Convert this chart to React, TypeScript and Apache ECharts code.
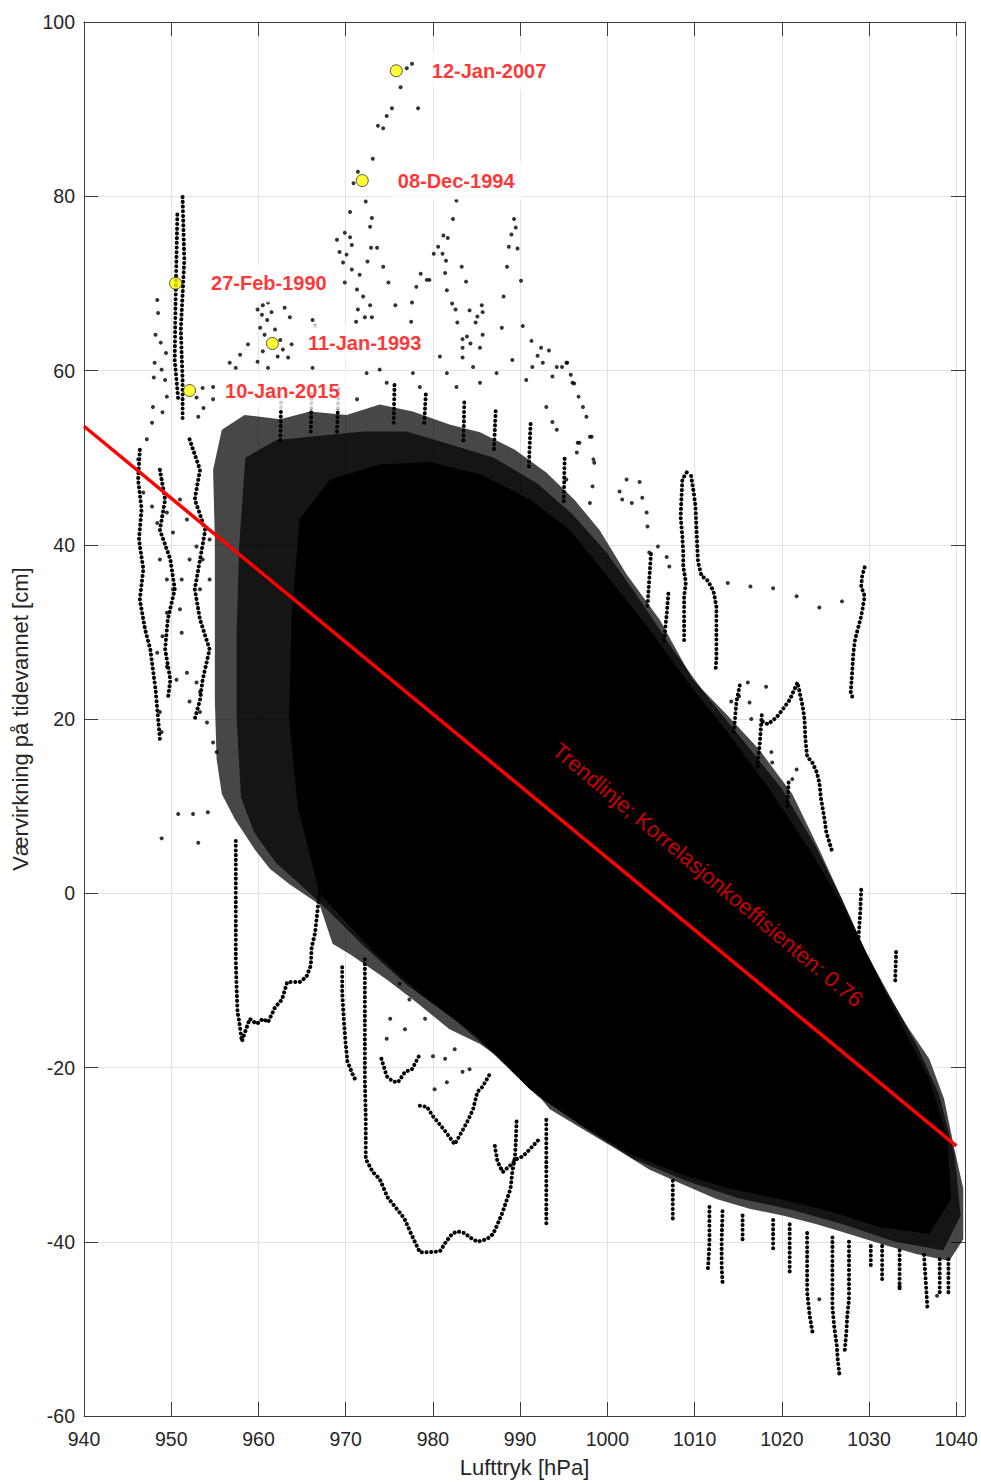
import React, { useEffect, useRef } from "react";
import * as echarts from "echarts";

// Weather effect on the tide (surge, cm) against air pressure (hPa).

const FONT = "'Liberation Sans', Arial, Helvetica, sans-serif";

// Axis ranges and tick spacing
const X_MIN = 940;
const X_MAX = 1041;
const X_STEP = 10;
const Y_MIN = -60;
const Y_MAX = 100;
const Y_STEP = 20;

// Highlighted storm events
const eventDates = ["12-Jan-2007", "08-Dec-1994", "27-Feb-1990", "11-Jan-1993", "10-Jan-2015"];
const eventPressure = [975.8, 971.9, 950.5, 961.6, 952.1];
const eventSurge = [94.4, 81.8, 70.0, 63.1, 57.7];

// Linear trend (end points at 940 and 1040 hPa)
const trendPressure = [940, 1040];
const trendSurge = [53.6, -29.0];
const trendText = "Trendlinje; Korrelasjonkoeffisienten: 0.76";
const trendTextAnchor = [1011.5, 2.1];

// Outline of the region where hourly readings overlap (loose fringe)
const denseOuter = [
  [954.8, 48.6], [955.8, 53.2], [958.4, 54.9], [962.5, 54.4], [965.9, 55.3], [970.1, 54.9],
  [973.9, 56.1], [977.7, 55.3], [981.9, 53.8], [985.4, 52.9], [989.4, 50.9], [993.0, 48.3],
  [996.2, 45.2], [999.1, 41.7], [1002.2, 36.6], [1006.0, 31.4], [1009.8, 24.5], [1013.7, 20.5],
  [1017.4, 16.5], [1021.2, 11.4], [1024.3, 5.0], [1026.9, -0.7], [1029.5, -6.4], [1031.8, -11.0],
  [1034.6, -15.6], [1036.9, -19.0], [1038.6, -23.6], [1039.8, -29.4], [1040.8, -33.9], [1040.8, -39.7],
  [1039.2, -42.2], [1035.4, -41.4], [1031.5, -40.3], [1027.7, -39.1], [1024.0, -38.0], [1020.1, -37.0],
  [1016.3, -36.2], [1012.5, -35.1], [1008.6, -33.4], [1004.8, -31.7], [1001.1, -29.4], [997.2, -27.1],
  [993.4, -24.8], [989.6, -20.2], [985.4, -17.3], [981.9, -15.6], [977.7, -12.2], [974.7, -9.9],
  [970.5, -7.0], [968.5, -5.8], [967.0, -1.3], [963.6, 1.0], [961.3, 2.8], [959.6, 5.0],
  [957.3, 8.5], [955.8, 11.4], [955.2, 15.4], [955.0, 22.2], [955.0, 31.4], [955.0, 40.6],
];

// Denser band inside the fringe
const denseMid = [
  [958.5, 50.0], [962.0, 52.0], [967.0, 52.5], [972.0, 53.0], [977.0, 53.0], [982.0, 51.5],
  [987.0, 50.0], [992.0, 47.0], [996.0, 43.5], [1000.0, 39.0], [1003.5, 34.0], [1007.5, 28.0],
  [1011.5, 22.5], [1016.0, 17.0], [1020.0, 12.0], [1023.8, 5.5], [1026.8, -0.5], [1029.5, -6.5],
  [1032.5, -12.0], [1035.5, -17.5], [1038.0, -23.0], [1039.8, -30.0], [1040.5, -37.0], [1038.5, -41.0],
  [1033.0, -40.0], [1027.0, -38.0], [1021.0, -36.3], [1015.0, -35.0], [1009.0, -33.0], [1003.0, -30.5],
  [997.5, -27.0], [992.0, -23.3], [987.0, -18.5], [982.5, -14.5], [977.0, -10.5], [972.0, -6.0],
  [968.0, -2.0], [965.0, 0.8], [962.0, 3.5], [959.5, 7.0], [958.0, 11.0], [957.5, 20.0],
  [957.5, 30.0], [957.8, 40.0],
];

// Core where the readings cover everything
const denseCore = [
  [964.7, 42.9], [968.2, 47.5], [973.9, 49.2], [979.6, 49.5], [985.4, 48.1], [991.1, 45.2],
  [995.7, 41.7], [1000.3, 36.0], [1004.8, 30.3], [1009.4, 24.0], [1014.0, 18.2], [1018.6, 11.9],
  [1023.2, 5.0], [1027.2, -1.8], [1030.6, -8.7], [1034.0, -15.6], [1036.9, -21.3], [1039.0, -28.2],
  [1039.4, -35.1], [1036.9, -39.1], [1031.2, -38.3], [1025.5, -36.5], [1019.7, -35.1], [1014.0, -33.9],
  [1008.3, -32.2], [1002.5, -29.9], [996.8, -26.5], [991.1, -22.5], [985.4, -16.7], [978.5, -11.5],
  [973.0, -6.5], [967.0, 0.0], [964.5, 10.0], [963.5, 20.0], [963.8, 31.4],
];

// Storm tracks: consecutive hourly readings outside the dense region
const track951a = [[951.3, 79.9], [951.5, 72.7], [951.1, 64.7], [951.3, 58.9], [951.3, 54.4]];
const track951b = [[950.7, 77.9], [950.5, 68.1], [950.4, 61.2], [950.8, 56.7]];
const trackWest1 = [
  [946.4, 50.9], [946.2, 47.5], [946.6, 44.1], [946.3, 40.6], [946.8, 37.2], [946.4, 33.7],
  [947.0, 30.3], [947.6, 28.0], [948.2, 23.4], [948.5, 20.0], [948.7, 17.7],
];
const trackWest2 = [
  [948.7, 48.6], [949.3, 45.2], [948.7, 41.7], [949.9, 38.3], [950.4, 34.9], [949.6, 31.4],
  [949.3, 28.0], [949.9, 24.5], [949.6, 22.2],
];
const trackWest3 = [
  [952.1, 52.1], [953.3, 48.6], [952.7, 45.2], [953.9, 41.7], [953.3, 38.3], [952.7, 34.9],
  [953.3, 31.4], [954.4, 28.0], [953.6, 24.5], [953.3, 22.2], [952.7, 20.0],
];
const track958 = [
  [957.4, 6.0], [957.4, 2.8], [957.4, -0.7], [957.4, -4.1], [957.4, -7.6], [957.5, -11.0],
  [957.6, -13.6], [957.8, -14.8], [958.1, -17.0], [959.0, -14.4], [959.8, -15.0], [960.5, -14.4],
  [961.1, -14.8], [961.9, -13.1], [962.7, -12.2], [963.3, -10.2], [964.7, -10.2], [965.5, -9.6],
  [966.0, -8.3], [966.1, -6.2], [966.5, -4.5], [966.7, -2.6], [967.0, 0.1],
];
const track972 = [
  [972.2, -7.6], [972.2, -12.2], [972.2, -16.7], [972.2, -21.3], [972.3, -25.9], [972.3, -30.5],
  [973.1, -32.0], [973.9, -32.8], [974.8, -34.9], [975.6, -35.9], [976.7, -37.3], [977.6, -39.3],
  [978.5, -41.2], [979.6, -41.2], [980.8, -41.1], [981.5, -40.0], [982.2, -39.1], [982.8, -38.8],
  [983.6, -39.0], [984.4, -39.6], [985.1, -40.0], [986.2, -39.7], [986.9, -39.1], [987.4, -38.0],
  [988.0, -36.6], [988.5, -35.1], [988.9, -33.9], [989.1, -32.0], [989.4, -30.3], [989.5, -28.6],
  [989.6, -25.9],
];
const track970 = [[969.6, -8.5], [969.6, -11.4], [969.8, -14.7], [970.0, -17.3], [970.2, -19.3], [970.8, -20.8], [971.2, -21.6]];
const track975 = [[974.1, -19.0], [974.7, -21.0], [975.4, -21.6], [976.0, -21.7], [976.8, -20.5], [977.6, -20.2], [978.5, -18.5]];
const track982 = [
  [978.5, -24.4], [979.3, -24.5], [980.0, -25.6], [980.6, -26.3], [981.4, -27.3], [982.5, -28.8],
  [983.3, -27.4], [983.9, -26.3], [984.6, -24.8], [985.1, -22.8], [985.7, -22.2], [986.5, -20.8],
];
const track988 = [[987.1, -29.0], [987.4, -30.8], [988.0, -32.0], [988.8, -31.3], [989.6, -30.5], [990.3, -30.2], [991.1, -29.4], [992.2, -28.2]];
const track993 = [[993.0, -26.0], [993.0, -30.0], [993.0, -33.6], [993.0, -35.1], [993.0, -38.2]];
const track1009 = [
  [1009.1, 48.3], [1008.6, 47.5], [1008.5, 45.5], [1008.4, 43.2], [1008.6, 40.9], [1008.7, 39.1],
  [1008.7, 37.5], [1009.0, 35.7], [1008.8, 34.1], [1008.8, 32.9], [1008.8, 31.4], [1008.8, 29.0],
];
const track1011 = [
  [1009.6, 47.9], [1009.9, 46.0], [1010.1, 44.4], [1010.2, 42.1], [1010.3, 39.8], [1010.4, 38.0],
  [1010.8, 36.4], [1011.4, 36.0], [1011.9, 35.2], [1012.2, 34.5], [1012.5, 32.9], [1012.5, 31.4],
  [1012.5, 29.9], [1012.5, 28.3], [1012.5, 26.8], [1012.4, 25.7],
];
const track1029 = [
  [1029.5, 37.4], [1029.2, 36.4], [1029.1, 35.2], [1029.5, 34.1], [1029.3, 32.9], [1029.1, 31.8],
  [1028.7, 30.3], [1028.4, 29.1], [1028.2, 27.6], [1028.1, 26.0], [1028.0, 24.5], [1027.9, 23.1],
  [1028.1, 22.5],
];
const track1022 = [
  [1017.8, 19.7], [1018.4, 19.4], [1019.4, 20.2], [1020.1, 21.1], [1020.9, 22.2], [1021.8, 24.2],
  [1022.4, 21.4], [1022.6, 20.0], [1022.7, 17.7], [1022.9, 15.7], [1023.5, 15.0], [1024.0, 13.9],
  [1024.3, 12.7], [1024.5, 10.8], [1024.9, 8.5], [1025.1, 7.0], [1025.8, 4.7],
];
// Short rises above the upper edge of the dense region
const upperSpikes = [
  [[962.5, 52.0], [962.6, 56.5]],
  [[966.0, 53.0], [966.1, 57.5]],
  [[969.0, 53.0], [969.2, 58.0]],
  [[975.5, 54.0], [975.6, 58.5]],
  [[979.0, 54.0], [979.2, 57.5]],
  [[983.5, 52.0], [983.6, 56.5]],
  [[987.0, 51.0], [987.2, 55.5]],
  [[991.0, 49.0], [991.2, 54.0]],
  [[995.0, 45.0], [995.1, 50.0]],
  [[1004.6, 33.0], [1004.8, 36.0], [1005.0, 39.0]],
  [[1006.5, 29.0], [1006.8, 32.0], [1007.0, 34.5]],
  [[1014.5, 18.5], [1014.8, 22.0], [1015.2, 24.0]],
  [[1017.2, 14.5], [1017.5, 17.5], [1017.7, 20.5]],
  [[1020.6, 10.0], [1020.8, 13.0]],
  [[1028.8, -5.0], [1029.0, -2.0], [1029.1, 0.5]],
  [[1033.0, -10.0], [1033.1, -6.7]],
];
// Dips below the lower edge of the dense region
const lowDips = [
  [[1007.5, -33.0], [1007.5, -35.9], [1007.5, -37.6]],
  [[1011.7, -36.0], [1011.7, -40.0], [1011.6, -42.0], [1011.5, -43.5]],
  [[1013.2, -36.5], [1013.1, -40.0], [1013.1, -42.8], [1013.2, -44.6]],
  [[1015.5, -37.0], [1015.5, -39.7]],
  [[1019.0, -37.5], [1019.0, -40.8]],
  [[1020.9, -38.0], [1020.9, -41.0], [1020.9, -43.9]],
  [[1022.9, -39.0], [1022.9, -42.5], [1022.9, -45.8], [1023.2, -48.5], [1023.5, -50.3]],
  [[1025.8, -39.5], [1025.8, -43.5], [1025.8, -47.4], [1026.0, -49.7], [1026.3, -51.9], [1026.4, -53.4], [1026.6, -55.2]],
  [[1027.7, -40.0], [1027.7, -43.5], [1027.7, -46.6], [1027.5, -48.5], [1027.4, -50.3], [1027.2, -52.6]],
  [[1030.2, -40.5], [1030.2, -42.8]],
  [[1031.5, -40.5], [1031.5, -44.6]],
  [[1033.5, -41.0], [1033.5, -45.4]],
  [[1036.3, -41.5], [1036.5, -44.5], [1036.7, -47.7]],
  [[1038.1, -42.0], [1038.1, -46.2]],
  [[1039.1, -42.0], [1039.1, -44.3], [1039.1, -45.8]],
];

// Single readings that stand apart from the tracks
const looseReadings = [
  [977.6, 95.2], [977.0, 94.7], [976.3, 92.5], [978.3, 90.1], [975.3, 90.1], [974.7, 89.2],
  [974.3, 87.8], [973.7, 88.1], [973.1, 84.3], [971.4, 82.8], [970.9, 81.5], [972.3, 79.4],
  [970.5, 78.2], [973.0, 77.5], [972.8, 76.5], [972.9, 74.1], [973.6, 74.1], [974.3, 71.9],
  [974.9, 70.1], [975.7, 67.5], [977.6, 67.8], [977.5, 65.6], [978.1, 69.6], [978.6, 71.1],
  [979.3, 70.4], [979.6, 70.4],
  [982.7, 79.5], [982.3, 77.4], [981.2, 75.5], [981.7, 75.2], [980.6, 74.2], [980.1, 73.4],
  [981.1, 73.4], [981.5, 72.6], [983.3, 71.9], [983.8, 70.2], [981.4, 71.2], [981.6, 69.2],
  [982.2, 67.7], [982.6, 67.0], [982.8, 65.5], [984.2, 66.9], [985.6, 67.5], [985.7, 66.7],
  [985.1, 66.2], [984.9, 65.5], [983.4, 63.6], [983.9, 63.9], [984.3, 63.1], [983.4, 62.6],
  [983.4, 61.5], [985.7, 64.1], [985.4, 62.6], [987.9, 64.9], [988.1, 68.5], [988.5, 71.9],
  [988.7, 74.2], [989.0, 75.6], [989.5, 76.4], [989.3, 77.4], [989.7, 74.0], [990.1, 70.3],
  [990.3, 65.1], [991.3, 63.4], [992.4, 62.6], [993.3, 62.3], [992.0, 61.7], [992.6, 60.9],
  [994.2, 60.4], [994.8, 60.4], [995.4, 60.9], [995.8, 59.5], [996.2, 58.5], [996.7, 57.0],
  [997.2, 55.8], [997.6, 54.7], [998.0, 52.4], [998.4, 49.8], [993.7, 54.1], [994.2, 53.2],
  [996.6, 51.7],
  [969.0, 75.0], [969.9, 75.8], [970.5, 75.3], [970.7, 74.4], [969.3, 73.6], [970.1, 73.3],
  [969.7, 72.4], [970.7, 71.6], [971.6, 71.0], [972.5, 72.5], [969.9, 70.1], [971.3, 69.3],
  [972.0, 68.5], [972.8, 67.5], [971.4, 67.0], [972.2, 66.1], [971.2, 65.6], [973.0, 66.1],
  [959.9, 67.0], [960.5, 67.5], [961.1, 67.8], [960.4, 66.4], [961.0, 65.8], [961.5, 66.7],
  [960.2, 64.9], [960.7, 64.1], [961.9, 64.7], [962.5, 63.5], [962.8, 62.4], [962.2, 61.6],
  [960.5, 62.2], [959.9, 61.0], [961.1, 60.3], [963.4, 61.5], [963.8, 63.0], [958.8, 63.0],
  [957.9, 61.8], [956.7, 60.9], [957.4, 60.3], [963.0, 67.2], [963.6, 66.1], [966.2, 65.8],
  [966.5, 65.1], [966.2, 60.3],
  [948.4, 68.1], [948.5, 66.6], [948.2, 64.1], [948.8, 63.2], [949.4, 62.0], [948.1, 60.9],
  [948.9, 60.1], [949.3, 58.9], [948.0, 59.2], [947.9, 55.8], [949.5, 57.0], [954.8, 58.1],
  [953.6, 58.0], [952.9, 56.9], [953.1, 54.7], [953.7, 55.7], [954.8, 56.7], [947.2, 52.1],
  [946.2, 49.8], [947.8, 54.0], [949.0, 55.2],
  [946.8, 46.0], [947.8, 44.4], [948.4, 42.5], [949.5, 43.7], [950.2, 41.4], [951.0, 45.2],
  [951.8, 42.9], [952.9, 39.8], [953.6, 38.3], [954.4, 40.6], [948.7, 38.3], [949.5, 36.0],
  [950.2, 34.9], [951.2, 36.0], [952.1, 38.3], [953.3, 34.9], [954.4, 36.0], [949.5, 32.2],
  [951.0, 32.6], [951.2, 29.9], [949.0, 29.5], [948.4, 27.6], [949.5, 26.0], [950.6, 24.5],
  [951.8, 25.3], [952.9, 24.2], [953.3, 23.1], [952.1, 22.0], [953.3, 20.8], [954.1, 19.6],
  [948.7, 20.8], [948.9, 18.5], [954.8, 17.3], [955.2, 16.2],
  [973.9, 60.1], [974.7, 58.6], [977.7, 59.7], [978.5, 58.1], [980.8, 61.6], [981.6, 59.7],
  [982.7, 58.1], [984.6, 60.4], [985.4, 58.6], [987.3, 59.7], [989.1, 61.2], [990.7, 58.9],
  [991.4, 60.4], [993.7, 59.3], [995.3, 60.9], [993.0, 55.8], [996.0, 58.6], [971.3, 56.7],
  [972.4, 59.7],
  [948.9, 6.3], [950.8, 9.1], [952.5, 9.1], [954.2, 9.3], [953.1, 5.8],
  [976.2, -10.4], [977.3, -12.2], [979.1, -14.4], [976.8, -15.6], [975.1, -14.4], [981.4, -19.0],
  [982.5, -17.9], [984.2, -20.2], [980.2, -22.5], [974.7, -16.7], [980.0, -18.7], [981.6, -21.7],
  [983.4, -20.5],
  [1002.2, 47.5], [1001.4, 46.1], [1001.7, 45.2], [1002.8, 44.8], [1003.7, 47.2], [1004.0, 45.4],
  [1004.5, 43.7], [1004.6, 42.1], [1004.8, 39.1], [1005.8, 39.8], [1006.8, 38.6], [1007.1, 37.5],
  [996.8, 51.7], [998.2, 52.4], [998.5, 49.4], [998.3, 46.7], [998.0, 44.8], [996.5, 50.6],
  [995.3, 47.5],
  [1013.8, 35.6], [1016.4, 35.2], [1019.0, 35.0], [1021.7, 34.1], [1024.3, 32.8], [1026.9, 33.5],
  [1016.1, 24.2], [1016.3, 21.9], [1016.5, 20.0], [1018.2, 23.7], [1015.1, 22.6], [1014.2, 22.0],
  [1018.8, 16.2], [1018.9, 15.0], [1021.7, 14.2], [1021.2, 13.1],
  [1024.3, -46.6], [1033.5, -45.1], [1037.8, -46.2],
];

const trackList = [
  track951a, track951b, trackWest1, trackWest2, trackWest3, track958, track972, track970,
  track975, track982, track988, track993, track1009, track1011, track1029, track1022,
  ...upperSpikes, ...lowDips,
];

function polygonSeries(vertices: number[][], fill: string) {
  return {
    type: "custom",
    data: vertices,
    encode: { x: 0, y: 1 },
    silent: true,
    clip: true,
    renderItem: (params: any, api: any) => {
      if (params.dataIndex !== 0) return null;
      const points = vertices.map((v) => api.coord(v));
      return { type: "polygon", shape: { points }, style: { fill } };
    },
  };
}

function trackSeries(points: number[][]) {
  return {
    type: "line",
    data: points,
    showSymbol: false,
    symbol: "none",
    silent: true,
    lineStyle: { color: "#000", width: 4, type: [0.1, 4.6], cap: "round", join: "round" },
  };
}

export default function App() {
  const ref = useRef<HTMLDivElement>(null);

  useEffect(() => {
    if (!ref.current) return;
    const chart = echarts.init(ref.current, undefined, { renderer: "svg" });

    const tickText = { color: "#262626", fontSize: 19.5, fontFamily: FONT };
    const nameText = { color: "#262626", fontSize: 22, fontFamily: FONT };
    const frame = { show: true, lineStyle: { color: "#3c3c3c", width: 1 } };
    const innerTick = { show: true, inside: true, length: 14, lineStyle: { color: "#3c3c3c" } };

    chart.setOption({
      animation: false,
      backgroundColor: "#fff",
      grid: { left: 84, right: 16, top: 22, bottom: 65, containLabel: false },
      xAxis: [
        {
          type: "value",
          min: X_MIN,
          max: X_MAX,
          interval: X_STEP,
          name: "Lufttryk [hPa]",
          nameLocation: "middle",
          nameGap: 40,
          nameTextStyle: nameText,
          axisLine: { ...frame, onZero: false },
          axisTick: innerTick,
          axisLabel: {
            ...tickText,
            margin: 13,
            formatter: (v: number) => (v % X_STEP === 0 ? String(v) : ""),
          },
          splitLine: { show: true, lineStyle: { color: "#e3e3e3", width: 1 } },
        },
        {
          type: "value",
          position: "top",
          min: X_MIN,
          max: X_MAX,
          interval: X_STEP,
          axisLine: { ...frame, onZero: false },
          axisTick: innerTick,
          axisLabel: { show: false },
          splitLine: { show: false },
        },
      ],
      yAxis: [
        {
          type: "value",
          min: Y_MIN,
          max: Y_MAX,
          interval: Y_STEP,
          name: "Værvirkning på tidevannet [cm]",
          nameLocation: "middle",
          nameGap: 51,
          nameTextStyle: nameText,
          axisLine: { ...frame, onZero: false },
          axisTick: innerTick,
          axisLabel: { ...tickText, margin: 9 },
          splitLine: { show: true, lineStyle: { color: "#e3e3e3", width: 1 } },
        },
        {
          type: "value",
          position: "right",
          min: Y_MIN,
          max: Y_MAX,
          interval: Y_STEP,
          axisLine: { ...frame, onZero: false },
          axisTick: innerTick,
          axisLabel: { show: false },
          splitLine: { show: false },
        },
      ],
      series: [
        polygonSeries(denseOuter, "rgba(0,0,0,0.72)"),
        polygonSeries(denseMid, "rgba(0,0,0,0.7)"),
        polygonSeries(denseCore, "#000"),
        ...trackList.map(trackSeries),
        {
          type: "scatter",
          data: looseReadings,
          symbolSize: 4,
          silent: true,
          itemStyle: { color: "#000" },
        },
        {
          type: "line",
          data: trendPressure.map((p, i) => [p, trendSurge[i]]),
          showSymbol: false,
          symbol: "none",
          silent: true,
          lineStyle: { color: "#ff0000", width: 3.5 },
          z: 5,
        },
        {
          type: "scatter",
          data: [{ name: trendText, value: trendTextAnchor }],
          symbolSize: 1,
          silent: true,
          itemStyle: { color: "transparent" },
          label: {
            show: true,
            position: "inside",
            formatter: "{b}",
            rotate: -40,
            color: "#ff0000",
            fontSize: 22,
            fontFamily: FONT,
          },
          z: 6,
        },
        {
          type: "scatter",
          data: eventDates.map((d, i) => ({ name: d, value: [eventPressure[i], eventSurge[i]] })),
          symbol: "circle",
          symbolSize: 12,
          silent: true,
          itemStyle: { color: "#ffff00", borderColor: "#2a2a2a", borderWidth: 1 },
          label: {
            show: true,
            position: "right",
            distance: 22,
            formatter: "{b}",
            color: "#ff0000",
            fontWeight: "bold",
            fontSize: 20,
            fontFamily: FONT,
            backgroundColor: "#ffffff",
            padding: [9, 7],
          },
          z: 7,
        },
      ],
    });

    return () => chart.dispose();
  }, []);

  return (
    <div
      ref={ref}
      style={{ position: "absolute", left: 0, top: 0, width: 981, height: 1483, background: "#fff" }}
    />
  );
}
